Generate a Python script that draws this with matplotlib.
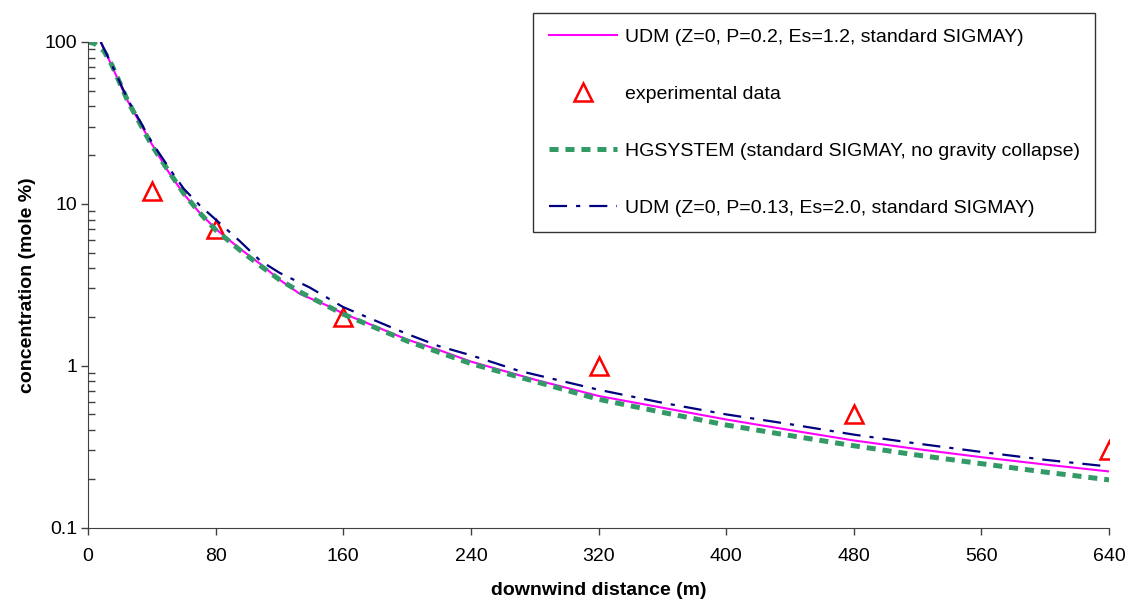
import matplotlib
matplotlib.use("Agg")
import matplotlib.pyplot as plt
from matplotlib.ticker import LogLocator, NullFormatter, FixedLocator

plt.rcParams['font.family'] = ['Liberation Sans', 'DejaVu Sans']
plt.rcParams['lines.scale_dashes'] = False

# UDM (Z=0, P=0.2, Es=1.2)
udm1_x = [8, 15, 25, 40, 50, 60, 70, 80, 95, 108, 120, 133, 150, 160, 180, 200, 220, 240,
          280, 320, 360, 400, 440, 480, 520, 560, 600, 640]
udm1_y = [100, 71, 43, 23.4, 16, 11.5, 8.8, 7.0, 5.3, 4.25, 3.4, 2.77, 2.35, 2.1, 1.75, 1.45,
          1.25, 1.06, 0.82, 0.65, 0.55, 0.465, 0.40, 0.345, 0.305, 0.272, 0.245, 0.222]

# HGSYSTEM
hg_x = [0, 4, 10, 15, 25, 40, 50, 60, 70, 80, 95, 108, 120, 133, 160, 200, 240, 280, 320,
        360, 400, 440, 480, 520, 560, 600, 640]
hg_y = [100, 98, 88, 72, 43, 23, 16.2, 11.6, 8.8, 6.9, 5.2, 4.15, 3.4, 2.85, 2.08, 1.42,
        1.03, 0.80, 0.62, 0.515, 0.43, 0.37, 0.32, 0.28, 0.248, 0.22, 0.197]

# UDM (Z=0, P=0.13, Es=2.0)
udm2_x = [8, 15, 25, 40, 52, 60, 70, 80, 95, 108, 120, 139, 160, 180, 200, 220, 240, 270,
          320, 360, 400, 440, 480, 520, 560, 600, 640]
udm2_y = [100, 72, 44, 24, 16, 12.4, 9.8, 8.0, 5.9, 4.45, 3.75, 3.04, 2.3, 1.9, 1.57, 1.32,
          1.16, 0.93, 0.71, 0.59, 0.5, 0.435, 0.375, 0.33, 0.293, 0.262, 0.238]

# experimental data
exp_x = [40, 80, 160, 320, 480, 640]
exp_y = [12, 7, 2.0, 1.0, 0.5, 0.3]

xticks = [0, 80, 160, 240, 320, 400, 480, 560, 640]
yticks = [0.1, 1, 10, 100]
ytick_labels = ['0.1', '1', '10', '100']

fig = plt.figure(figsize=(11.28, 6.05), dpi=100)
ax = fig.add_axes([88 / 1128, 1 - 527.5 / 605, (1109 - 88) / 1128, (527.5 - 42) / 605])

ax.plot(udm1_x, udm1_y, color='#FF00FF', lw=1.5,
        label='UDM (Z=0, P=0.2, Es=1.2, standard SIGMAY)')
ax.plot(exp_x, exp_y, ls='none', marker='^', ms=13, mfc='none', mec='#FF0000', mew=1.8,
        label='experimental data')
ax.plot(hg_x, hg_y, color='#339966', lw=3.6, dashes=(6.5, 5),
        label='HGSYSTEM (standard SIGMAY, no gravity collapse)')
ax.plot(udm2_x, udm2_y, color='#000080', lw=1.6, dashes=(13, 6.5, 3, 6.5),
        label='UDM (Z=0, P=0.13, Es=2.0, standard SIGMAY)')

ax.set_yscale('log')
ax.set_xlim(0, 640)
ax.set_ylim(0.1, 100)
ax.xaxis.set_major_locator(FixedLocator(xticks))
ax.set_yticks(yticks)
ax.set_yticklabels(ytick_labels)
ax.yaxis.set_minor_locator(LogLocator(base=10, subs=range(2, 10)))
ax.yaxis.set_minor_formatter(NullFormatter())
ax.tick_params(axis='both', which='major', direction='out', length=5, width=1,
               color='#404040', labelsize=14, pad=3)
ax.tick_params(axis='y', which='minor', direction='in', length=5, width=1, color='#404040')
ax.tick_params(axis='x', pad=10)

for s in ['top', 'right']:
    ax.spines[s].set_visible(False)
for s in ['left', 'bottom']:
    ax.spines[s].set_color('#404040')

ax.set_xlabel('downwind distance (m)', fontsize=14, fontweight='bold', labelpad=12)
ax.set_ylabel('concentration (mole %)', fontsize=14, fontweight='bold', labelpad=6)

leg = ax.legend(loc='upper left', bbox_to_anchor=(533 / 1128, 1 - 13 / 605),
                bbox_transform=fig.transFigure, fontsize=14, frameon=True, fancybox=False,
                edgecolor='black', handlelength=3.5, labelspacing=2.02, borderpad=0.8,
                handletextpad=0.42, borderaxespad=0)
leg.get_frame().set_linewidth(1)

fig.savefig('out.png', dpi=100)
